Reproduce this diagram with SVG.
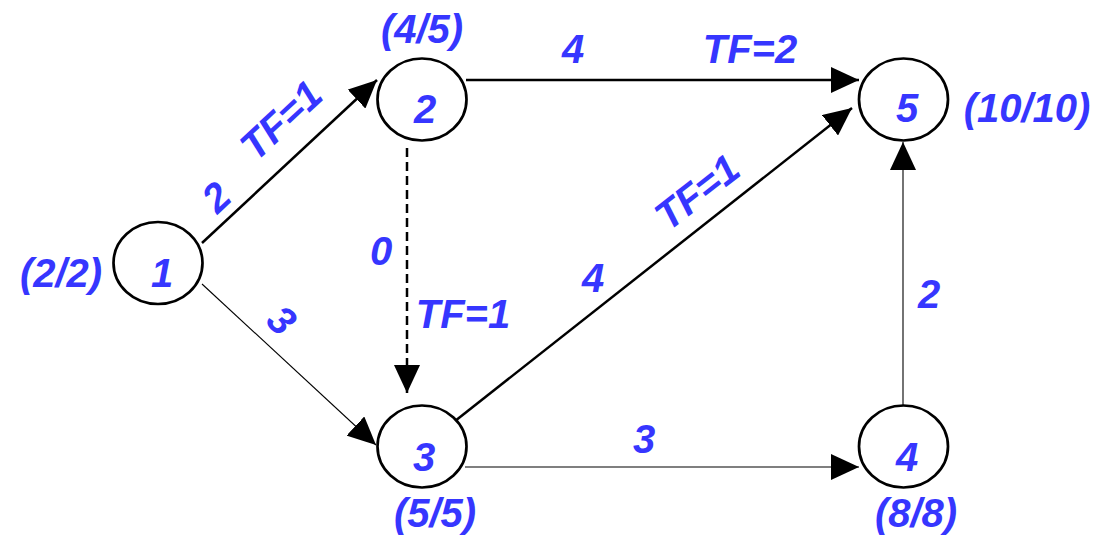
<svg xmlns="http://www.w3.org/2000/svg" width="1110" height="538" viewBox="0 0 1110 538">
<style>
.node{fill:#fff;stroke:#000;stroke-width:2.7}
.t{font-family:"Liberation Sans",Arial,sans-serif;font-weight:bold;font-style:italic;font-size:40px;fill:#3636ff;text-anchor:middle}
.e{fill:none;stroke:#000}
.thick{stroke-width:2.5}
.thin{stroke-width:1.1}
.dash{stroke-dasharray:9 5}
</style>
<defs>
<marker id="arr" markerUnits="userSpaceOnUse" markerWidth="28" markerHeight="26" viewBox="0 0 28 26" refX="28" refY="13" orient="auto">
<path d="M0,0 L28,13 L0,26 z" fill="#000"/>
</marker>
</defs>
<rect width="1110" height="538" fill="#fff"/>
<g id="connectors">
<line class="e thick" x1="202" y1="243" x2="377" y2="80" marker-end="url(#arr)"/>
<line class="e thin" x1="202" y1="284" x2="376" y2="445" marker-end="url(#arr)"/>
<line class="e thick" x1="466" y1="80" x2="859" y2="80" marker-end="url(#arr)"/>
<line class="e thick dash" x1="407" y1="148" x2="407" y2="393" marker-end="url(#arr)"/>
<line class="e thick" x1="450" y1="425" x2="852" y2="108" marker-end="url(#arr)"/>
<line class="e thin" x1="465" y1="467" x2="859" y2="467" marker-end="url(#arr)" stroke="#333"/>
<line class="e thin" x1="903" y1="405" x2="903" y2="142" marker-end="url(#arr)"/>
</g>
<g id="edge-labels">
<text class="t" transform="translate(216,197) rotate(-43)" y="14">2</text>
<text class="t" transform="translate(281,120) rotate(-43)" y="14">TF=1</text>
<text class="t" transform="translate(282,320) rotate(43)" y="14">3</text>
<text class="t" transform="translate(697,192) rotate(-38)" y="14">TF=1</text>
<text class="t" x="381" y="265">0</text>
<text class="t" x="463" y="328">TF=1</text>
<text class="t" x="593" y="292">4</text>
<text class="t" x="929" y="308">2</text>
<text class="t" x="644" y="453">3</text>
<text class="t" x="573" y="63">4</text>
<text class="t" x="750" y="63">TF=2</text>
</g>
<g id="node1">
<ellipse class="node" cx="158" cy="263" rx="44.5" ry="41"/>
<text class="t" x="162" y="287">1</text>
<text class="t" x="61" y="287">(2/2)</text>
</g>
<g id="node2">
<ellipse class="node" cx="422" cy="99.5" rx="44.5" ry="41"/>
<text class="t" x="425" y="123">2</text>
<text class="t" x="422" y="43">(4/5)</text>
</g>
<g id="node3">
<ellipse class="node" cx="422" cy="446.5" rx="44.5" ry="41"/>
<text class="t" x="424" y="471">3</text>
<text class="t" x="435" y="527">(5/5)</text>
</g>
<g id="node4">
<ellipse class="node" cx="903.5" cy="446.5" rx="44.5" ry="41"/>
<text class="t" x="907" y="471">4</text>
<text class="t" x="916" y="527">(8/8)</text>
</g>
<g id="node5">
<ellipse class="node" cx="903.5" cy="99.5" rx="44.5" ry="41"/>
<text class="t" x="907" y="122">5</text>
<text class="t" x="1027" y="122">(10/10)</text>
</g>
</svg>
